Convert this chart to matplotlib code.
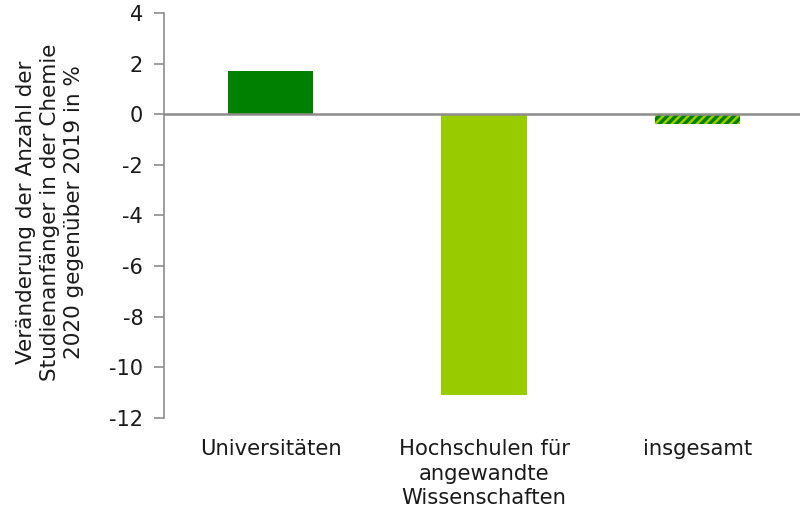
import matplotlib
matplotlib.use('Agg')
import matplotlib.pyplot as plt

categories = ['Universitäten', 'Hochschulen für\nangewandte\nWissenschaften', 'insgesamt']
changes = [1.7, -11.1, -0.4]
colors = ['#008000', '#99cc00', '#99cc00']
hatches = ['', '', '////']

plt.rcParams['font.family'] = ['DejaVu Sans']
plt.rcParams['hatch.linewidth'] = 2.4
plt.rcParams['hatch.color'] = '#008000'

fig = plt.figure(figsize=(8, 5.11), dpi=100)
ax = fig.add_axes([0.205, 0.182, 0.795, 0.7926])

x = range(len(categories))
for i, (v, c, h) in enumerate(zip(changes, colors, hatches)):
    ax.bar(i, v, width=0.4, color=c, hatch=h,
           edgecolor='#008000' if h else c, linewidth=0)

ax.axhline(0, color='#8c8c8c', linewidth=1.8, zorder=3)
ax.set_xlim(-0.5, 2.48)
ax.set_ylim(-12, 4)
ax.set_yticks(range(-12, 5, 2))
ax.set_xticks(list(x))
ax.set_xticklabels(categories, fontsize=15.2, color='#1a1a1a', va='top', linespacing=1.3)
ax.tick_params(axis='x', length=0, pad=15)
ax.tick_params(axis='y', labelsize=15, colors='#1a1a1a', color='#8c8c8c',
               length=7, width=1.2, pad=8)
ax.set_yticklabels(['-12', '-10', '-8', '-6', '-4', '-2', '0', '2', '4'])

for s in ['top', 'right', 'bottom']:
    ax.spines[s].set_visible(False)
ax.spines['left'].set_color('#8c8c8c')
ax.spines['left'].set_linewidth(1.2)

ax.set_ylabel('Veränderung der Anzahl der\nStudienanfänger in der Chemie\n2020 gegenüber 2019 in %',
              fontsize=15.5, color='#1a1a1a', linespacing=1.25)
ax.yaxis.set_label_coords(-0.125, 0.509)

fig.savefig('out.png', dpi=100)
